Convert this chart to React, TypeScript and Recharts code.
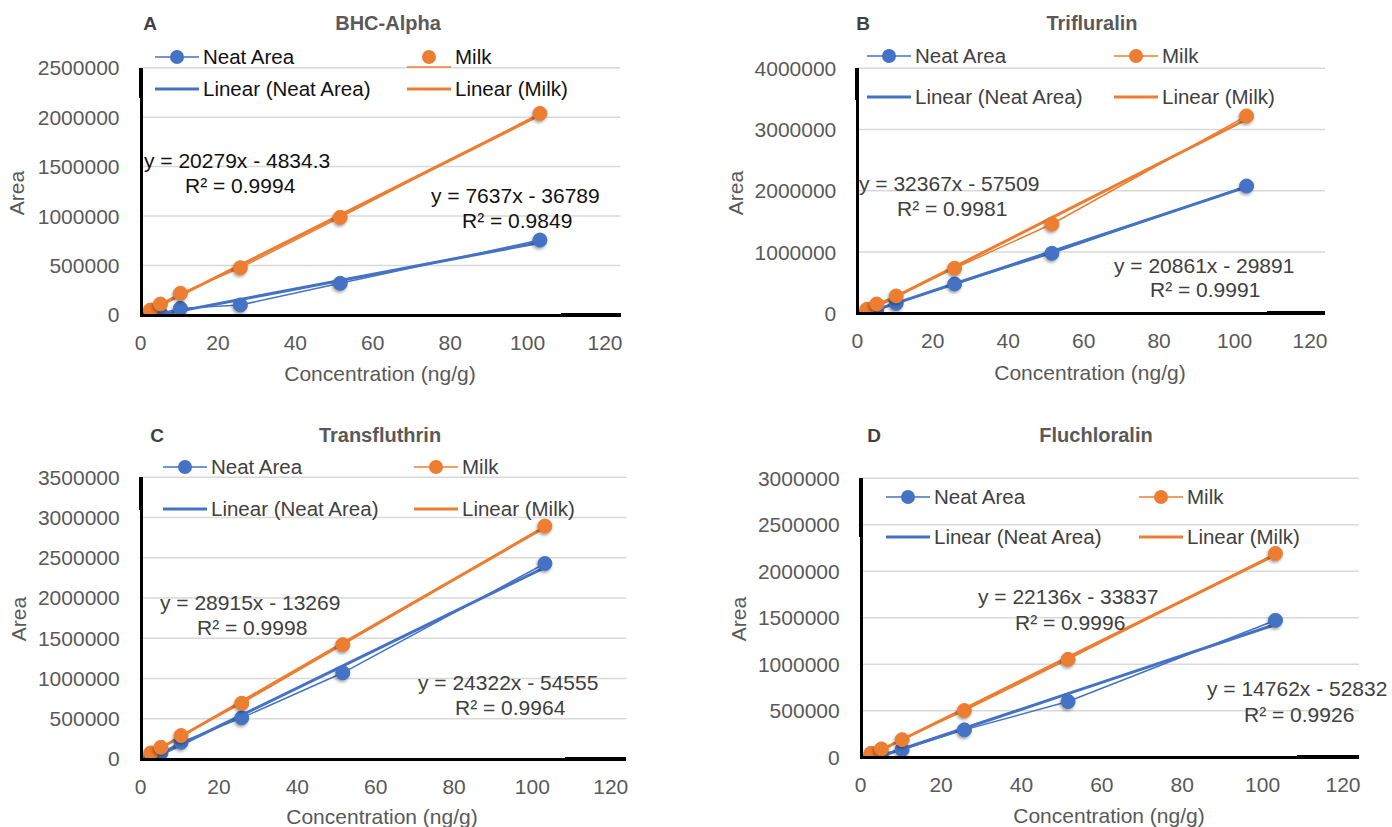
import React from "react";
import { ComposedChart, Line, XAxis, YAxis, CartesianGrid } from "recharts";

const concentrations = [2.58, 5.16, 10.32, 25.8, 51.6, 103.2];
const xTicks = [0, 20, 40, 60, 80, 100, 120];

const bhcNeat = [5000, 17000, 67000, 101000, 320000, 758000];
const bhcMilk = [50000, 111000, 219000, 478000, 987000, 2038000];
const trifluralinNeat = [27000, 65000, 163000, 479000, 980000, 2079000];
const trifluralinMilk = [65000, 152000, 283000, 735000, 1458000, 3222000];
const transfluthrinNeat = [21000, 75000, 208000, 511000, 1071000, 2429000];
const transfluthrinMilk = [75000, 145000, 291000, 693000, 1420000, 2894000];
const fluchloralinNeat = [18000, 36000, 83000, 295000, 600000, 1473000];
const fluchloralinMilk = [43000, 90000, 190000, 503000, 1053000, 2192000];

// slope, intercept, R² as printed on the trendlines
const bhcFitNeat = [7637, -36789, 0.9849];
const bhcFitMilk = [20279, -4834.3, 0.9994];
const trifluralinFitNeat = [20861, -29891, 0.9991];
const trifluralinFitMilk = [32367, -57509, 0.9981];
const transfluthrinFitNeat = [24322, -54555, 0.9964];
const transfluthrinFitMilk = [28915, -13269, 0.9998];
const fluchloralinFitNeat = [14762, -52832, 0.9926];
const fluchloralinFitMilk = [22136, -33837, 0.9996];

const bhcTicks = [0, 500000, 1000000, 1500000, 2000000, 2500000];
const trifluralinTicks = [0, 1000000, 2000000, 3000000, 4000000];
const transfluthrinTicks = [0, 500000, 1000000, 1500000, 2000000, 2500000, 3000000, 3500000];
const fluchloralinTicks = [0, 500000, 1000000, 1500000, 2000000, 2500000, 3000000];

const seriesNames = ["Neat Area", "Milk", "Linear (Neat Area)", "Linear (Milk)"];

const BLUE = "#4472C4";
const ORANGE = "#ED7D31";
const FONT = "'Liberation Sans', Arial, Helvetica, sans-serif";
const GRAY = "#595959";
const X_END = 124;
const Y_AXIS_W = 120;
const X_AXIS_H = 40;

const toPoints = (ys: number[]) => concentrations.map((x, i) => ({ x, y: ys[i] }));

// least squares line through the plotted points (Excel "Linear" trendline)
const trend = (ys: number[]) => {
  const n = ys.length;
  const mx = concentrations.reduce((a, b) => a + b, 0) / n;
  const my = ys.reduce((a, b) => a + b, 0) / n;
  let sxy = 0;
  let sxx = 0;
  concentrations.forEach((x, i) => {
    sxy += (x - mx) * (ys[i] - my);
    sxx += (x - mx) * (x - mx);
  });
  const slope = sxy / sxx;
  const icpt = my - slope * mx;
  return concentrations.map((x) => ({ x, y: slope * x + icpt }));
};

const eqText = (fit: number[]) => `y = ${fit[0]}x ${fit[1] < 0 ? "-" : "+"} ${Math.abs(fit[1])}`;
const r2Text = (fit: number[]) => `R² = ${fit[2].toFixed(4)}`;

type PanelProps = {
  letter: string;
  title: string;
  neat: number[];
  milk: number[];
  fitNeat: number[];
  fitMilk: number[];
  yTicks: number[];
  left: number;
  top: number;
  width: number;
  height: number;
  margin: { top: number; right: number; bottom: number; left: number };
  letterPos: [number, number];
  titlePos: [number, number];
  areaPos: [number, number];
  concPos: [number, number];
  legendX: [number, number];
  legendY: [number, number];
  eqMilk: [number, number, number, number];
  eqNeat: [number, number, number, number];
  textColor: string;
  milkSplitMarker?: boolean;
  axisTopFrom: number;
};

const abs = (x: number, y: number, extra: React.CSSProperties = {}): React.CSSProperties => ({
  position: "absolute",
  left: x,
  top: y,
  whiteSpace: "nowrap",
  lineHeight: 1,
  ...extra,
});

const Sample = ({ color, thick, dot, split }: { color: string; thick?: boolean; dot?: boolean; split?: boolean }) => (
  <svg width={46} height={24} style={{ display: "block" }}>
    <line x1={1} x2={45} y1={split ? 22 : 12} y2={split ? 22 : 12} stroke={color} strokeWidth={thick ? 3 : 1.5} />
    {dot && <circle cx={23} cy={12} r={7} fill={color} />}
  </svg>
);

const Panel = (p: PanelProps) => {
  const rows = [
    [
      { name: seriesNames[0], color: BLUE, thick: false, dot: true, split: false },
      { name: seriesNames[1], color: ORANGE, thick: false, dot: true, split: !!p.milkSplitMarker },
    ],
    [
      { name: seriesNames[2], color: BLUE, thick: true, dot: false, split: false },
      { name: seriesNames[3], color: ORANGE, thick: true, dot: false, split: false },
    ],
  ];
  const yMax = p.yTicks[p.yTicks.length - 1];
  const dotStyle = (color: string) => ({
    r: 7,
    fill: color,
    stroke: color,
    strokeWidth: 1,
    style: { filter: "drop-shadow(-1px 2px 1.5px rgba(0,0,0,0.35))" },
  });

  // plot frame in page pixels, for the black axis lines
  const plotL = Math.round(p.left + p.margin.left + Y_AXIS_W);
  const plotT = Math.round(p.top + p.margin.top);
  const plotB = Math.round(p.top + p.height - p.margin.bottom - X_AXIS_H);
  const plotR = Math.round(p.left + p.width - p.margin.right);
  const thickTopB = Math.round(plotT + (1 - p.axisTopFrom / yMax) * (plotB - plotT));
  const thickRightL = Math.round(plotL + (108.5 / X_END) * (plotR - plotL));

  return (
    <>
      <div style={{ position: "absolute", left: p.left, top: p.top }}>
        <ComposedChart width={p.width} height={p.height} margin={p.margin}>
          <CartesianGrid vertical={false} stroke="#d9d9d9" strokeWidth={1.5} />
          <XAxis
            type="number"
            dataKey="x"
            domain={[0, X_END]}
            ticks={xTicks}
            allowDataOverflow
            height={X_AXIS_H}
            tickSize={0}
            tickMargin={20}
            axisLine={false}
            tick={{ fill: GRAY, fontSize: 21, fontFamily: FONT }}
          />
          <YAxis
            type="number"
            domain={[0, yMax]}
            ticks={p.yTicks}
            allowDataOverflow
            width={Y_AXIS_W}
            tickSize={0}
            tickMargin={21}
            axisLine={false}
            tick={{ fill: GRAY, fontSize: 21, fontFamily: FONT }}
          />
          <Line data={trend(p.neat)} dataKey="y" stroke={BLUE} strokeWidth={3} dot={false} isAnimationActive={false} />
          <Line data={trend(p.milk)} dataKey="y" stroke={ORANGE} strokeWidth={3} dot={false} isAnimationActive={false} />
          <Line data={toPoints(p.neat)} dataKey="y" stroke={BLUE} strokeWidth={1.5} dot={dotStyle(BLUE)} isAnimationActive={false} />
          <Line data={toPoints(p.milk)} dataKey="y" stroke={ORANGE} strokeWidth={1.5} dot={dotStyle(ORANGE)} isAnimationActive={false} />
        </ComposedChart>
      </div>
      <div style={{ position: "absolute", left: plotL - 1, top: plotT, width: 3, height: plotB - plotT + 1, background: "#000" }} />
      <div style={{ position: "absolute", left: plotL - 2, top: plotT, width: 4, height: thickTopB - plotT, background: "#000" }} />
      <div style={{ position: "absolute", left: plotL - 1, top: plotB - 1, width: plotR - plotL + 1, height: 3, background: "#000" }} />
      <div style={{ position: "absolute", left: thickRightL, top: plotB - 2, width: plotR - thickRightL, height: 4, background: "#000" }} />
      <div style={abs(p.letterPos[0], p.letterPos[1], { transform: "translate(-50%,-50%)", fontWeight: 700, fontSize: 19, color: "#404040" })}>
        {p.letter}
      </div>
      <div style={abs(p.titlePos[0], p.titlePos[1], { transform: "translate(-50%,-50%)", fontWeight: 700, fontSize: 20, color: GRAY })}>
        {p.title}
      </div>
      <div style={abs(p.areaPos[0], p.areaPos[1], { transform: "translate(-50%,-50%) rotate(-90deg)", fontSize: 21, color: GRAY })}>Area</div>
      <div style={abs(p.concPos[0], p.concPos[1], { transform: "translate(-50%,-50%)", fontSize: 21, color: GRAY })}>
        Concentration (ng/g)
      </div>
      {rows.map((row, ri) =>
        row.map((item, ci) => (
          <div
            key={`${ri}-${ci}`}
            style={abs(p.legendX[ci], p.legendY[ri], {
              transform: "translateY(-50%)",
              display: "flex",
              alignItems: "center",
              fontSize: 20.5,
              color: p.textColor,
            })}
          >
            <Sample color={item.color} thick={item.thick} dot={item.dot} split={item.split} />
            <span style={{ marginLeft: 3 }}>{item.name}</span>
          </div>
        ))
      )}
      <div style={abs(p.eqMilk[0], p.eqMilk[1], { transform: "translateY(-50%)", fontSize: 21, color: p.textColor })}>{eqText(p.fitMilk)}</div>
      <div style={abs(p.eqMilk[2], p.eqMilk[3], { transform: "translateY(-50%)", fontSize: 21, color: p.textColor })}>{r2Text(p.fitMilk)}</div>
      <div style={abs(p.eqNeat[0], p.eqNeat[1], { transform: "translateY(-50%)", fontSize: 21, color: p.textColor })}>{eqText(p.fitNeat)}</div>
      <div style={abs(p.eqNeat[2], p.eqNeat[3], { transform: "translateY(-50%)", fontSize: 21, color: p.textColor })}>{r2Text(p.fitNeat)}</div>
    </>
  );
};

export default function App() {
  return (
    <div style={{ position: "absolute", left: 0, top: 0, width: 1392, height: 827, background: "#fff", fontFamily: FONT, overflow: "hidden" }}>
      <Panel
        letter="A"
        title="BHC-Alpha"
        neat={bhcNeat}
        milk={bhcMilk}
        fitNeat={bhcFitNeat}
        fitMilk={bhcFitMilk}
        yTicks={bhcTicks}
        left={0}
        top={0}
        width={640}
        height={400}
        margin={{ top: 67.7, right: 19.5, bottom: 45, left: 20.5 }}
        letterPos={[150, 23]}
        titlePos={[388, 23]}
        areaPos={[16, 193]}
        concPos={[380, 373]}
        legendX={[154, 406]}
        legendY={[57, 89]}
        eqMilk={[144, 160, 185, 185]}
        eqNeat={[431, 195, 462, 220]}
        textColor="#111"
        milkSplitMarker
        axisTopFrom={2200000}
      />
      <Panel
        letter="B"
        title="Trifluralin"
        neat={trifluralinNeat}
        milk={trifluralinMilk}
        fitNeat={trifluralinFitNeat}
        fitMilk={trifluralinFitMilk}
        yTicks={trifluralinTicks}
        left={700}
        top={0}
        width={692}
        height={400}
        margin={{ top: 68.3, right: 66.9, bottom: 46.7, left: 37.3 }}
        letterPos={[863, 23]}
        titlePos={[1092, 23]}
        areaPos={[735, 193]}
        concPos={[1090, 372]}
        legendX={[866, 1113]}
        legendY={[56, 97]}
        eqMilk={[859, 183, 897, 208]}
        eqNeat={[1114, 265, 1150, 289]}
        textColor="#404040"
        axisTopFrom={3480000}
      />
      <Panel
        letter="C"
        title="Transfluthrin"
        neat={transfluthrinNeat}
        milk={transfluthrinMilk}
        fitNeat={transfluthrinFitNeat}
        fitMilk={transfluthrinFitMilk}
        yTicks={transfluthrinTicks}
        left={0}
        top={420}
        width={640}
        height={407}
        margin={{ top: 57.3, right: 13.6, bottom: 28, left: 20.7 }}
        letterPos={[157, 435]}
        titlePos={[380, 435]}
        areaPos={[18, 619]}
        concPos={[382, 816]}
        legendX={[162, 413]}
        legendY={[467, 509]}
        eqMilk={[160, 602, 197, 627]}
        eqNeat={[418, 682, 455, 707]}
        textColor="#404040"
        axisTopFrom={3090000}
      />
      <Panel
        letter="D"
        title="Fluchloralin"
        neat={fluchloralinNeat}
        milk={fluchloralinMilk}
        fitNeat={fluchloralinFitNeat}
        fitMilk={fluchloralinFitMilk}
        yTicks={fluchloralinTicks}
        left={700}
        top={420}
        width={692}
        height={407}
        margin={{ top: 58.3, right: 32.9, bottom: 29.7, left: 40.7 }}
        letterPos={[874, 435]}
        titlePos={[1096, 435]}
        areaPos={[738, 619]}
        concPos={[1109, 815]}
        legendX={[885, 1138]}
        legendY={[497, 537]}
        eqMilk={[978, 596, 1015, 622]}
        eqNeat={[1207, 688, 1244, 714]}
        textColor="#404040"
        axisTopFrom={2370000}
      />
    </div>
  );
}
